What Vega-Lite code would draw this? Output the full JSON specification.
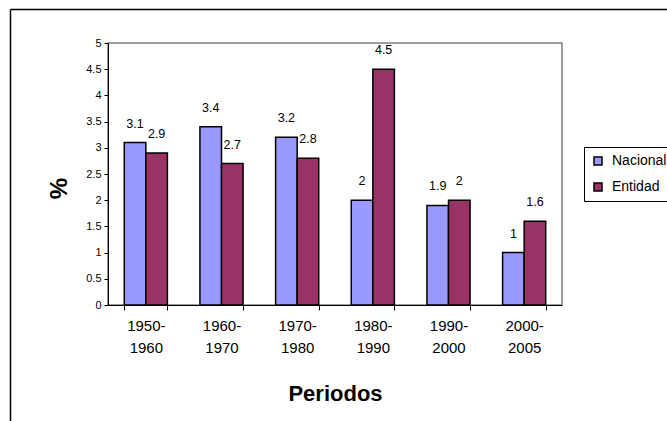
{
  "$schema": "https://vega.github.io/schema/vega-lite/v6.json",
  "autosize": "none",
  "width": 454,
  "height": 262,
  "padding": {"left": 108, "top": 43, "right": 105, "bottom": 116},
  "background": "white",
  "config": {
    "font": "Liberation Sans",
    "view": {"stroke": "#808080", "strokeWidth": 1.5}
  },
  "data": {
    "values": [
      {"periodo": "1950-1960", "serie": "Nacional", "valor": 3.1},
      {"periodo": "1950-1960", "serie": "Entidad", "valor": 2.9},
      {"periodo": "1960-1970", "serie": "Nacional", "valor": 3.4},
      {"periodo": "1960-1970", "serie": "Entidad", "valor": 2.7},
      {"periodo": "1970-1980", "serie": "Nacional", "valor": 3.2},
      {"periodo": "1970-1980", "serie": "Entidad", "valor": 2.8},
      {"periodo": "1980-1990", "serie": "Nacional", "valor": 2},
      {"periodo": "1980-1990", "serie": "Entidad", "valor": 4.5},
      {"periodo": "1990-2000", "serie": "Nacional", "valor": 1.9},
      {"periodo": "1990-2000", "serie": "Entidad", "valor": 2},
      {"periodo": "2000-2005", "serie": "Nacional", "valor": 1},
      {"periodo": "2000-2005", "serie": "Entidad", "valor": 1.6}
    ]
  },
  "resolve": {"scale": {"x": "independent", "y": "independent"}, "axis": {"x": "independent", "y": "independent"}},
  "layer": [
    {
      "encoding": {
        "x": {
          "field": "periodo",
          "type": "nominal",
          "sort": null,
          "scale": {"paddingInner": 0.43, "paddingOuter": 0.215},
          "axis": {
            "orient": "bottom",
            "tickBand": "extent",
            "domainColor": "black",
            "domainWidth": 1,
            "tickColor": "black",
            "tickSize": 5,
            "labelAngle": 0,
            "labelFont": "Liberation Sans",
            "labelFontSize": 15,
            "labelColor": "black",
            "labelLineHeight": 22,
            "labelBaseline": "top",
            "labelPadding": 8,
            "labelExpr": "[slice(datum.label, 0, 5), slice(datum.label, 5)]",
            "title": "Periodos",
            "titleFont": "Liberation Sans",
            "titleFontSize": 22,
            "titleFontWeight": "bold",
            "titleColor": "black",
            "titleBaseline": "alphabetic",
            "titleY": 95,
            "grid": false
          }
        },
        "xOffset": {"field": "serie", "sort": ["Nacional", "Entidad"], "scale": {"paddingInner": 0, "paddingOuter": 0}},
        "y": {
          "field": "valor",
          "type": "quantitative",
          "scale": {"domain": [0, 5], "nice": false},
          "axis": {
            "orient": "left",
            "values": [0, 0.5, 1, 1.5, 2, 2.5, 3, 3.5, 4, 4.5, 5],
            "labelExpr": "datum.value + ''",
            "domainColor": "black",
            "domainWidth": 1,
            "tickColor": "black",
            "tickSize": 4,
            "labelFont": "Liberation Sans",
            "labelFontSize": 11,
            "labelColor": "black",
            "labelPadding": 3,
            "grid": false,
            "title": "%",
            "titleFont": "Liberation Sans",
            "titleFontSize": 24,
            "titleFontWeight": "bold",
            "titleColor": "black",
            "titleAngle": -90,
            "titleAlign": "center",
            "titleBaseline": "middle",
            "titleX": -49,
            "titleY": 145
          }
        }
      },
      "layer": [
        {
          "mark": {"type": "bar", "stroke": "black", "strokeWidth": 1.5},
          "encoding": {
            "color": {
              "field": "serie",
              "type": "nominal",
              "scale": {"domain": ["Nacional", "Entidad"], "range": ["#9999FF", "#993366"]},
              "legend": {
                "orient": "none",
                "legendX": 476,
                "legendY": 104,
                "direction": "vertical",
                "title": null,
                "strokeColor": "black",
                "fillColor": "white",
                "padding": 7,
                "symbolType": "square",
                "symbolSize": 64,
                "symbolStrokeColor": "black",
                "symbolStrokeWidth": 1.5,
                "symbolOpacity": 1,
                "labelFont": "Liberation Sans",
                "labelFontSize": 14,
                "labelColor": "black",
                "labelOffset": 7,
                "rowPadding": 12
              }
            }
          }
        },
        {
          "mark": {"type": "text", "baseline": "middle", "align": "center", "dy": -19, "fontSize": 12.5, "font": "Liberation Sans", "color": "black"},
          "encoding": {"text": {"field": "valor", "type": "quantitative"}}
        }
      ]
    },
    {
      "mark": {"type": "point", "opacity": 0},
      "encoding": {
        "x": {
          "datum": 0,
          "type": "quantitative",
          "scale": {"domain": [0, 1], "range": [-98, 580]},
          "axis": {"orient": "top", "offset": 34, "domainColor": "black", "domainWidth": 1.5, "ticks": false, "labels": false, "grid": false, "title": null}
        },
        "y": {
          "datum": 0,
          "type": "quantitative",
          "scale": {"domain": [0, 1], "range": [378, -34]},
          "axis": {"orient": "left", "offset": 98, "domainColor": "black", "domainWidth": 1.5, "ticks": false, "labels": false, "grid": false, "title": null}
        }
      }
    }
  ]
}
